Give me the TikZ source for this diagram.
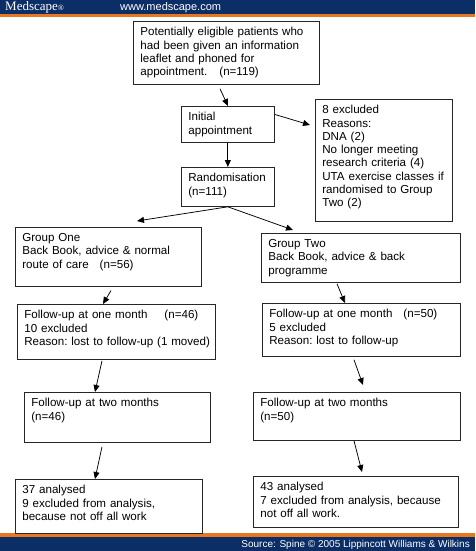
\documentclass[tikz,border=0pt]{standalone}
\usepackage{fontspec}
\setmainfont{Liberation Sans}
\newfontfamily\logofont{Liberation Serif}
\usetikzlibrary{arrows.meta}
\definecolor{mednavy}{RGB}{12,46,102}
\definecolor{medorange}{RGB}{232,119,34}
\tikzset{arr/.style={-{Triangle[length=7pt,width=6pt]}, line width=0.75pt},
  box/.style={draw=black!85, line width=0.7pt, anchor=north west, align=left,
    inner xsep=7pt, inner ysep=6pt, text width=#1},
  deep/.style={execute at end node={\rule[-#1]{0pt}{#1}}}}

\begin{document}
\begin{tikzpicture}[x=1pt, y=-1pt, font=\fontsize{11.6}{13.3}\selectfont\frenchspacing]
  \useasboundingbox (0,0) rectangle (475,551);
  % banner and footer bars
  \fill[mednavy] (0,0) rectangle (475,14);
  \fill[medorange] (0,14) rectangle (475,17);
  \fill[medorange] (0,533) rectangle (475,537);
  \fill[mednavy] (0,537) rectangle (475,551);
  \node[anchor=base west, text=white, inner sep=0, font=\logofont\fontsize{13}{13}\selectfont] (logo) at (5,11) {Medscape{\fontsize{8}{8}\selectfont ®}};
  \node[anchor=base west, text=white, inner sep=0, font=\fontsize{11}{11}\selectfont] (url) at (120,11) {www.medscape.com};
  \node[anchor=base east, text=white, inner sep=0, font=\fontsize{10}{10}\selectfont] (src) at (470,547) {Source: Spine © 2005 Lippincott Williams \& Wilkins};
  % enrolment
  \node[box=172pt, deep=2.8pt] (pat) at (133,21) {Potentially eligible patients who\\had been given an information\\leaflet and phoned for\\appointment.\hspace{12pt}(n=119)};
  \node[box=79pt, deep=2.4pt] (init) at (181,106) {Initial\\appointment};
  \node[box=79pt, deep=5.4pt] (rand) at (181,167) {Randomisation\\(n=111)};
  \node[box=123pt, deep=8.6pt] (excl) at (315,99) {8 excluded\\Reasons:\\DNA (2)\\No longer meeting\\research criteria (4)\\UTA exercise classes if\\randomised to Group\\Two (2)};
  % group one
  \node[box=172pt, deep=12.1pt] (g1) at (15,227) {Group One\\Back Book, advice \& normal\\route of care\hspace{11pt}(n=56)};
  \node[box=184pt, deep=8.1pt] (fu1L) at (17,304) {Follow-up at one month\hspace{17pt}(n=46)\\10 excluded\\\mbox{Reason: lost to follow-up (1 moved)}};
  \node[box=172pt, deep=16.4pt] (fu2L) at (24,392) {Follow-up at two months\\(n=46)};
  \node[box=173pt, deep=7.1pt] (anL) at (15,479) {37 analysed\\9 excluded from analysis,\\because not off all work};
  % group two
  \node[box=185pt, deep=2.4pt] (g2) at (261,233) {Group Two\\Back Book, advice \& back\\programme};
  \node[box=184pt, deep=6.1pt] (fu1R) at (262,303) {Follow-up at one month\hspace{11pt}(n=50)\\5 excluded\\Reason: lost to follow-up};
  \node[box=193pt, deep=14.4pt] (fu2R) at (253,392) {Follow-up at two months\\(n=50)};
  \node[box=191pt, deep=4.1pt] (anR) at (253,476) {43 analysed\\7 excluded from analysis, because\\not off all work.};
  % connectors
  \draw[arr] ([xshift=87pt,yshift=-4pt]pat.south west) -- ([xshift=47pt]init.north west);
  \draw[arr] (init) -- (rand);
  \draw[arr] ([yshift=10pt]init.east) -- ([xshift=-5pt,yshift=-26pt]excl.north west);
  \draw[arr] (rand.south) -- ([xshift=122pt,yshift=6pt]g1.north west);
  \draw[arr] (rand.south) -- ([xshift=32pt,yshift=3pt]g2.north west);
  \draw[arr] ([xshift=96pt,yshift=-4pt]g1.south west) -- ([xshift=86pt]fu1L.north west);
  \draw[arr] ([xshift=85pt,yshift=-1pt]fu1L.south west) -- ([xshift=71pt]fu2L.north west);
  \draw[arr] ([xshift=78pt,yshift=-4pt]fu2L.south west) -- ([xshift=80pt]anL.north west);
  \draw[arr] ([xshift=76pt,yshift=-1pt]g2.south west) -- ([xshift=83pt]fu1R.north west);
  \draw[arr] ([xshift=92pt,yshift=-3pt]fu1R.south west) -- ([xshift=110pt,yshift=7pt]fu2R.north west);
  \draw[arr] ([xshift=101pt]fu2R.south west) -- ([xshift=109pt,yshift=4pt]anR.north west);
\end{tikzpicture}
\end{document}
